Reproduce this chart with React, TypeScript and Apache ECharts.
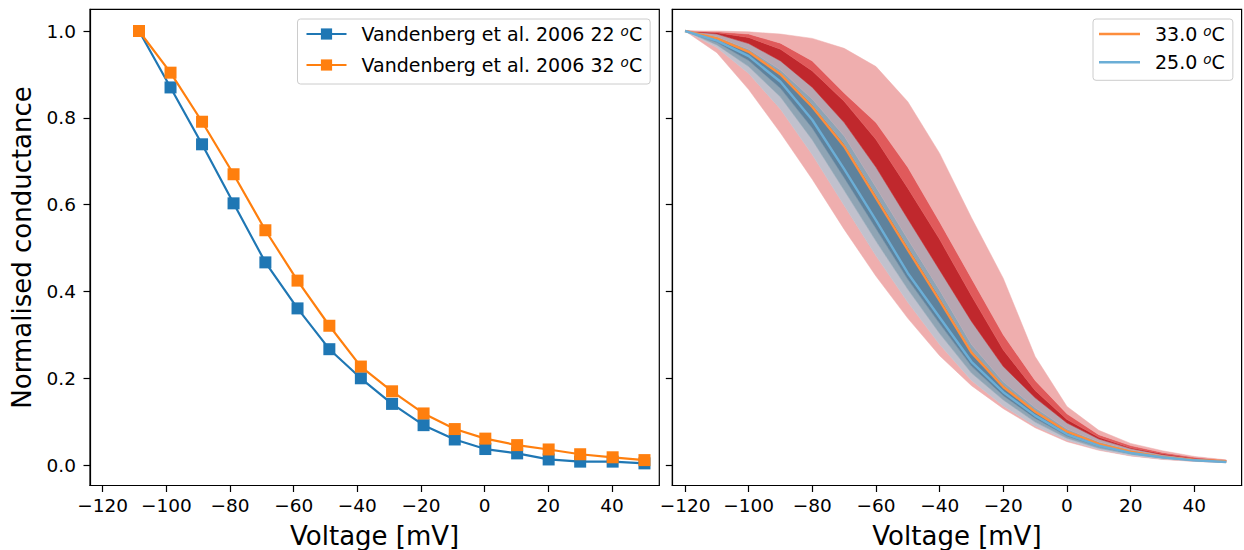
import React, { useEffect, useRef } from 'react';
import * as echarts from 'echarts';

// ---------- Left panel: experimental data (Vandenberg et al. 2006) ----------
const VOLTAGE_EXP = [-108.6, -98.7, -88.8, -78.9, -68.9, -58.8, -48.8, -38.9, -29.1, -19.2, -9.4, 0.2, 10.2, 20.1, 30.0, 40.2, 50.2];
const G_22C = [1.0, 0.870, 0.739, 0.603, 0.467, 0.361, 0.267, 0.200, 0.141, 0.092, 0.059, 0.037, 0.027, 0.013, 0.008, 0.008, 0.004];
const G_32C = [1.0, 0.904, 0.791, 0.670, 0.541, 0.425, 0.321, 0.227, 0.170, 0.119, 0.083, 0.061, 0.046, 0.036, 0.025, 0.018, 0.0115];

// ---------- Right panel: model curves with percentile bands ----------
const VOLTAGE_MODEL = [-120, -110, -100, -90, -80, -70, -60, -50, -40, -30, -20, -10, 0, 10, 20, 30, 40, 50];
const LINE_33C = [1.0, 0.983, 0.952, 0.900, 0.825, 0.734, 0.615, 0.496, 0.379, 0.259, 0.180, 0.123, 0.077, 0.049, 0.031, 0.019, 0.012, 0.009];
const LINE_25C = [1.0, 0.978, 0.942, 0.883, 0.795, 0.682, 0.564, 0.442, 0.340, 0.238, 0.168, 0.114, 0.071, 0.045, 0.028, 0.018, 0.011, 0.007];

// band boundaries, bottom to top
const B0_RED_OUTER_LOW = [1.0, 0.950, 0.865, 0.765, 0.658, 0.543, 0.435, 0.338, 0.252, 0.183, 0.130, 0.086, 0.054, 0.034, 0.021, 0.013, 0.0085, 0.0055];
const B1_BLUE_OUTER_LOW = [1.0, 0.962, 0.902, 0.820, 0.715, 0.598, 0.482, 0.375, 0.278, 0.195, 0.136, 0.090, 0.057, 0.036, 0.022, 0.014, 0.009, 0.006];
const B2_BLUE_MID_LOW = [1.0, 0.968, 0.918, 0.848, 0.749, 0.633, 0.516, 0.405, 0.303, 0.212, 0.150, 0.099, 0.062, 0.039, 0.025, 0.016, 0.010, 0.0065];
const B3_BLUE_INNER_LOW = [1.0, 0.974, 0.932, 0.868, 0.776, 0.662, 0.545, 0.428, 0.326, 0.228, 0.160, 0.108, 0.067, 0.043, 0.027, 0.017, 0.0105, 0.0068];
const B4_INNER_HIGH = [1.0, 0.984, 0.954, 0.904, 0.830, 0.740, 0.622, 0.503, 0.386, 0.264, 0.184, 0.126, 0.079, 0.050, 0.032, 0.020, 0.0125, 0.0092];
const B5_MID_HIGH = [1.0, 0.986, 0.958, 0.910, 0.843, 0.758, 0.640, 0.520, 0.403, 0.278, 0.192, 0.132, 0.083, 0.053, 0.034, 0.021, 0.013, 0.0095];
const B6_BLUE_OUTER_HIGH = [1.0, 0.993, 0.971, 0.931, 0.870, 0.789, 0.686, 0.567, 0.449, 0.331, 0.227, 0.155, 0.097, 0.060, 0.038, 0.024, 0.015, 0.010];
const B7_RED_INNER_HIGH = [1.0, 0.996, 0.985, 0.958, 0.908, 0.838, 0.750, 0.638, 0.520, 0.390, 0.265, 0.172, 0.105, 0.064, 0.040, 0.026, 0.016, 0.0105];
const B8_RED_MID_HIGH = [1.0, 0.998, 0.993, 0.972, 0.931, 0.857, 0.789, 0.686, 0.560, 0.430, 0.300, 0.195, 0.118, 0.070, 0.045, 0.029, 0.018, 0.011];
const B9_RED_OUTER_HIGH = [1.0, 1.0, 0.998, 0.993, 0.983, 0.960, 0.918, 0.837, 0.718, 0.570, 0.430, 0.250, 0.135, 0.080, 0.050, 0.033, 0.020, 0.012];

const BOUNDARIES = [
  B0_RED_OUTER_LOW, B1_BLUE_OUTER_LOW, B2_BLUE_MID_LOW, B3_BLUE_INNER_LOW, B4_INNER_HIGH,
  B5_MID_HIGH, B6_BLUE_OUTER_HIGH, B7_RED_INNER_HIGH, B8_RED_MID_HIGH, B9_RED_OUTER_HIGH,
];
// fill colour between boundary i and i+1
const BAND_COLORS = ['#efaeae', '#c1c1cd', '#8fa4b4', '#5f829c', '#8fa4b4', '#b6a7b2', '#c0282d', '#e05a5b', '#efaeae'];

const X_TICKS = [-120, -100, -80, -60, -40, -20, 0, 20, 40];
const Y_TICKS = [0, 0.2, 0.4, 0.6, 0.8, 1.0];

const NAME_22 = 'Vandenberg et al. 2006 22 °C';
const NAME_32 = 'Vandenberg et al. 2006 32 °C';
const NAME_33 = '33.0 °C';
const NAME_25 = '25.0 °C';

const FONT = '"DejaVu Sans", sans-serif';
const BLACK = '#000';

function xAxis(gridIndex: number) {
  return {
    type: 'value', gridIndex, min: -124, max: 54.86,
    axisLine: { show: true, onZero: false, lineStyle: { color: BLACK, width: 1.2 } },
    axisTick: { show: true, inside: false, length: 6.5, customValues: X_TICKS, lineStyle: { color: BLACK, width: 1.2 } },
    axisLabel: {
      customValues: X_TICKS, color: BLACK, fontSize: 18.5, fontFamily: FONT, margin: 10,
      formatter: (v: number) => String(v).replace('-', '\u2212'),
    },
    splitLine: { show: false },
    name: 'Voltage [mV]', nameLocation: 'middle', nameGap: 39,
    nameTextStyle: { fontSize: 26, lineHeight: 22, color: BLACK, fontFamily: FONT },
  };
}

function yAxis(gridIndex: number, labels: boolean) {
  return {
    type: 'value', gridIndex, min: -0.047, max: 1.05,
    axisLine: { show: true, onZero: false, lineStyle: { color: BLACK, width: 1.2 } },
    axisTick: { show: true, inside: false, length: 6.5, customValues: Y_TICKS, lineStyle: { color: BLACK, width: 1.2 } },
    axisLabel: {
      show: labels, customValues: Y_TICKS, color: BLACK, fontSize: 18.5, fontFamily: FONT, margin: 14,
      formatter: (v: number) => v.toFixed(1),
    },
    splitLine: { show: false },
    name: labels ? 'Normalised conductance' : '', nameLocation: 'middle', nameGap: 55,
    nameTextStyle: { fontSize: 26, color: BLACK, fontFamily: FONT },
  };
}

function legendText() {
  return {
    fontSize: 19, color: BLACK, fontFamily: FONT, lineHeight: 20, padding: [0, 0, 0, 10],
    rich: {
      sup: { fontSize: 13.5, fontStyle: 'italic', fontFamily: FONT, color: BLACK, verticalAlign: 'top', lineHeight: 12 },
    },
  };
}

export default function App() {
  const ref = useRef<HTMLDivElement>(null);

  useEffect(() => {
    document.body.style.margin = '0';
    document.body.style.overflow = 'hidden';
    if (!ref.current) return;
    const chart = echarts.init(ref.current, null, { renderer: 'svg' });

    const bandSeries = {
      type: 'custom', xAxisIndex: 1, yAxisIndex: 1, silent: true, z: 1,
      data: BAND_COLORS.map((_, i) => [VOLTAGE_MODEL[0], BOUNDARIES[i][0], i]),
      encode: { x: 0, y: 1 },
      renderItem: (params: any, api: any) => {
        const i = params.dataIndex;
        const lo = BOUNDARIES[i];
        const hi = BOUNDARIES[i + 1];
        const lower = VOLTAGE_MODEL.map((v, k) => api.coord([v, lo[k]]));
        const upper = VOLTAGE_MODEL.map((v, k) => api.coord([v, hi[k]])).reverse();
        return {
          type: 'polygon',
          shape: { points: lower.concat(upper) },
          style: { fill: BAND_COLORS[i], stroke: BAND_COLORS[i], lineWidth: 0.5 },
        };
      },
    };

    const gridCommon = {
      top: 9.3, width: 569.3, height: 476.2, show: true, borderColor: BLACK, borderWidth: 1.2,
      backgroundColor: 'transparent', containLabel: false, outerBoundsMode: 'none',
    };

    const option: any = {
      animation: false,
      backgroundColor: '#fff',
      grid: [
        { ...gridCommon, left: 90 },
        { ...gridCommon, left: 672.3 },
      ],
      xAxis: [xAxis(0), xAxis(1)],
      yAxis: [yAxis(0, true), yAxis(1, false)],
      legend: [
        {
          data: [NAME_22, NAME_32], orient: 'vertical', left: 297.5, top: 19,
          itemWidth: 40, itemHeight: 14, itemGap: 11, padding: [5, 8, 9, 8],
          borderColor: '#cccccc', borderWidth: 1, borderRadius: 3, backgroundColor: 'rgba(255,255,255,0.8)',
          textStyle: legendText(),
          formatter: (n: string) => n.replace('°C', '{sup|o}C'),
        },
        {
          data: [NAME_33, NAME_25], orient: 'vertical', left: 1093, top: 19,
          icon: 'rect', itemWidth: 41, itemHeight: 2.6, itemGap: 8.3, padding: [5, 8, 8, 6],
          borderColor: '#cccccc', borderWidth: 1, borderRadius: 3, backgroundColor: 'rgba(255,255,255,0.8)',
          textStyle: legendText(),
          formatter: (n: string) => n.replace('°C', '{sup|o}C'),
        },
      ],
      series: [
        {
          type: 'line', name: NAME_22, xAxisIndex: 0, yAxisIndex: 0,
          data: VOLTAGE_EXP.map((v, i) => [v, G_22C[i]]),
          symbol: 'rect', symbolSize: 12, showSymbol: true,
          itemStyle: { color: '#1f77b4' }, lineStyle: { color: '#1f77b4', width: 2.2 }, z: 3,
        },
        {
          type: 'line', name: NAME_32, xAxisIndex: 0, yAxisIndex: 0,
          data: VOLTAGE_EXP.map((v, i) => [v, G_32C[i]]),
          symbol: 'rect', symbolSize: 12, showSymbol: true,
          itemStyle: { color: '#ff7f0e' }, lineStyle: { color: '#ff7f0e', width: 2.2 }, z: 4,
        },
        bandSeries,
        {
          type: 'line', name: NAME_33, xAxisIndex: 1, yAxisIndex: 1,
          data: VOLTAGE_MODEL.map((v, i) => [v, LINE_33C[i]]),
          symbol: 'none', itemStyle: { color: '#fd8d3c' }, lineStyle: { color: '#fd8d3c', width: 2.4 }, z: 5,
        },
        {
          type: 'line', name: NAME_25, xAxisIndex: 1, yAxisIndex: 1,
          data: VOLTAGE_MODEL.map((v, i) => [v, LINE_25C[i]]),
          symbol: 'none', itemStyle: { color: '#6baed6' }, lineStyle: { color: '#6baed6', width: 2.4 }, z: 5,
        },
      ],
    };

    chart.setOption(option);
    return () => chart.dispose();
  }, []);

  return <div ref={ref} style={{ width: 1244, height: 550 }} />;
}
